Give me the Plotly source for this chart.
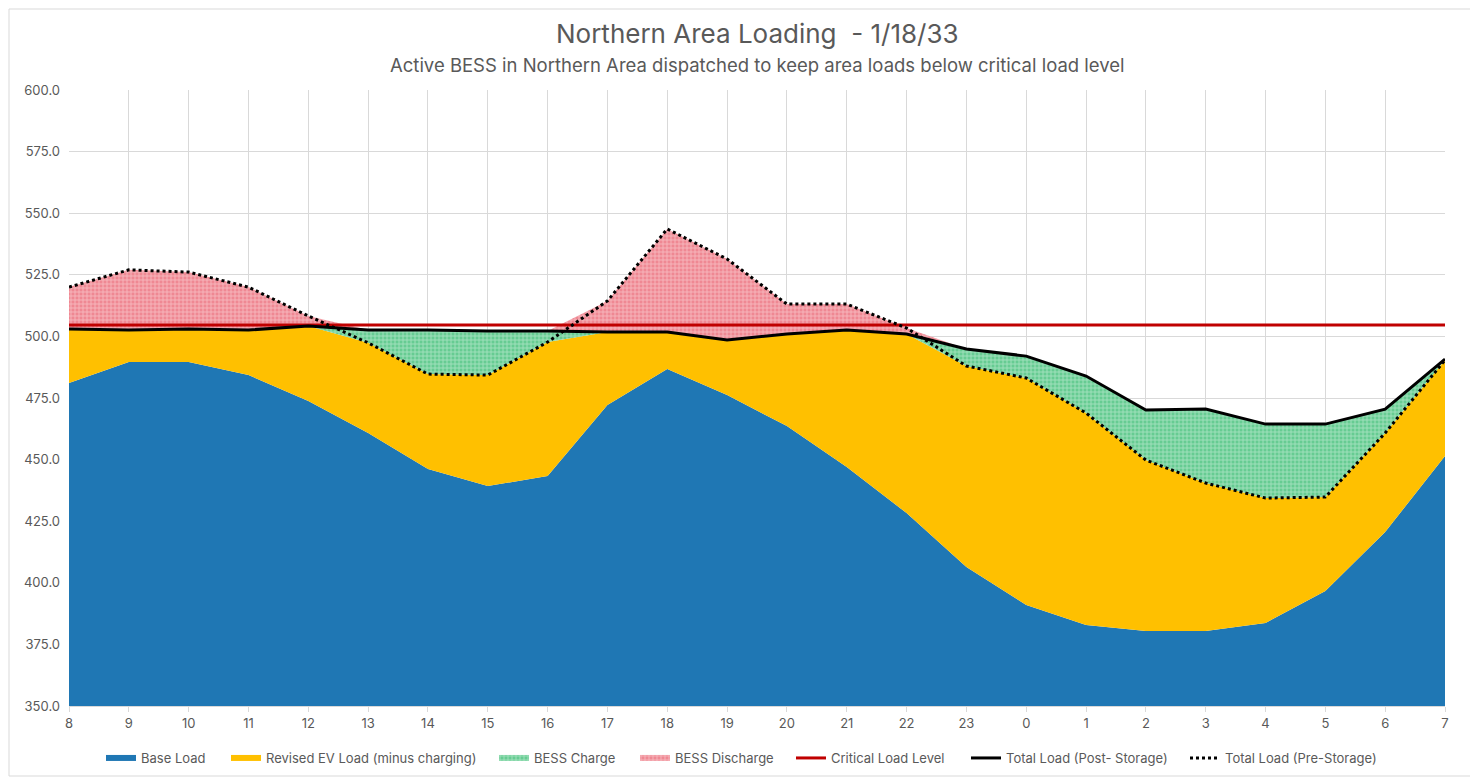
import plotly.graph_objects as go

hours = ["8", "9", "10", "11", "12", "13", "14", "15", "16", "17", "18", "19",
         "20", "21", "22", "23", "0", "1", "2", "3", "4", "5", "6", "7"]

base_load = [481.1, 489.6, 489.6, 484.3, 473.8, 460.8, 446.2, 439.3, 443.3, 472.2, 486.8, 476.2,
             463.6, 447.0, 428.3, 406.4, 391.0, 382.9, 380.4, 380.4, 383.7, 396.7, 420.6, 451.5]

total_pre = [520.0, 527.0, 526.1, 520.0, 508.3, 497.4, 484.7, 484.3, 497.7, 514.4, 543.6, 531.4,
             513.1, 513.1, 503.4, 488.0, 483.1, 468.9, 449.8, 440.5, 434.4, 434.8, 460.8, 490.4]

total_post = [503.0, 502.6, 503.0, 502.6, 504.2, 502.6, 502.6, 502.2, 502.2, 501.8, 501.8, 498.5,
              501.0, 502.6, 501.0, 494.9, 492.0, 483.9, 470.1, 470.5, 464.4, 464.4, 470.5, 490.8]

critical_level = 504.6

# derived stack components
ev_revised = [min(p, q) - b for p, q, b in zip(total_pre, total_post, base_load)]
bess_charge = [max(q - p, 0) for p, q in zip(total_pre, total_post)]
bess_discharge = [max(p - q, 0) for p, q in zip(total_pre, total_post)]

x = list(range(len(hours)))
FONT = "Inter"
GRAY = "#595959"

# page has an 8px body margin; figure placed at (8,8)
OFF = 8
W, H = 1478 - OFF, 779 - OFF
L, R, T, B = 69 - OFF, 1478 - 1445, 90 - OFF, 779 - 706
pw = W - L - R
ph = H - T - B


def px(xp):
    return (xp - 69) / pw


def py(yp):
    return (706 - yp) / ph


fig = go.Figure()
fig.add_trace(go.Scatter(x=x, y=base_load, name="Base Load", stackgroup="s", mode="none",
                         fillcolor="#1f77b4", legend="legend"))
fig.add_trace(go.Scatter(x=x, y=ev_revised, name="Revised EV Load (minus charging)", stackgroup="s",
                         mode="none", fillcolor="#ffc000", legend="legend2"))
fig.add_trace(go.Scatter(x=x, y=bess_charge, name="BESS Charge", stackgroup="s", mode="none",
                         fillcolor="#6fcf97", legend="legend3",
                         fillpattern=dict(shape="+", fgcolor="#e2f6ea", bgcolor="#66cc92",
                                          size=4, solidity=0.4, fillmode="overlay")))
fig.add_trace(go.Scatter(x=x, y=bess_discharge, name="BESS Discharge", stackgroup="s", mode="none",
                         fillcolor="#f08a96", legend="legend4",
                         fillpattern=dict(shape="+", fgcolor="#fce6e8", bgcolor="#ef8893",
                                          size=4, solidity=0.4, fillmode="overlay")))
fig.add_trace(go.Scatter(x=x, y=[critical_level] * len(x), name="Critical Load Level", mode="lines",
                         line=dict(color="#c00000", width=3), legend="legend5"))
fig.add_trace(go.Scatter(x=x, y=total_post, name="Total Load (Post- Storage)", mode="lines",
                         line=dict(color="black", width=3), legend="legend6"))
fig.add_trace(go.Scatter(x=x, y=total_pre, name="Total Load (Pre-Storage)", mode="lines",
                         line=dict(color="black", width=3, dash="dot"), legend="legend7"))

swatch_starts = [107, 232, 500, 641, 797, 972, 1191]
legends = {}
for i, s in enumerate(swatch_starts):
    key = "legend" if i == 0 else f"legend{i + 1}"
    legends[key] = dict(orientation="h", x=px(s - 6), xanchor="left", y=py(758), yanchor="middle",
                        font=dict(size=13, color=GRAY), bgcolor="rgba(0,0,0,0)")

fig.update_layout(
    width=W, height=H,
    margin=dict(l=L, r=R, t=T, b=B, autoexpand=False),
    paper_bgcolor="white", plot_bgcolor="white",
    font=dict(family=FONT, color=GRAY, size=13),
    showlegend=True,
    annotations=[
        dict(text="Northern Area Loading  - 1/18/33", x=px(758), xref="paper", y=py(33), yref="paper",
             yanchor="middle", showarrow=False, font=dict(size=26, color=GRAY, family=FONT)),
        dict(text="Active BESS in Northern Area dispatched to keep area loads below critical load level",
             x=px(758), xref="paper", y=py(65), yref="paper", yanchor="middle", showarrow=False,
             font=dict(size=18.5, color=GRAY, family=FONT)),
    ],
    **legends,
)

fig.add_shape(type="rect", xref="paper", yref="paper",
              x0=px(9), x1=px(1471), y0=py(776), y1=py(9),
              line=dict(color="#d9d9d9", width=1), layer="below")

fig.update_xaxes(range=[0, len(x) - 1], tickvals=x, ticktext=hours, showgrid=True,
                 gridcolor="#d9d9d9", gridwidth=1, showline=True, linecolor="#d9d9d9",
                 ticks="outside", ticklen=5, tickcolor="#d9d9d9", zeroline=False,
                 tickfont=dict(size=13, color=GRAY))
fig.update_yaxes(range=[350, 600], dtick=25, tickformat=".1f", showgrid=True,
                 gridcolor="#d9d9d9", gridwidth=1, zeroline=False, showline=False,
                 tickfont=dict(size=13, color=GRAY), ticklabelstandoff=8)

fig.write_html("out.html")
